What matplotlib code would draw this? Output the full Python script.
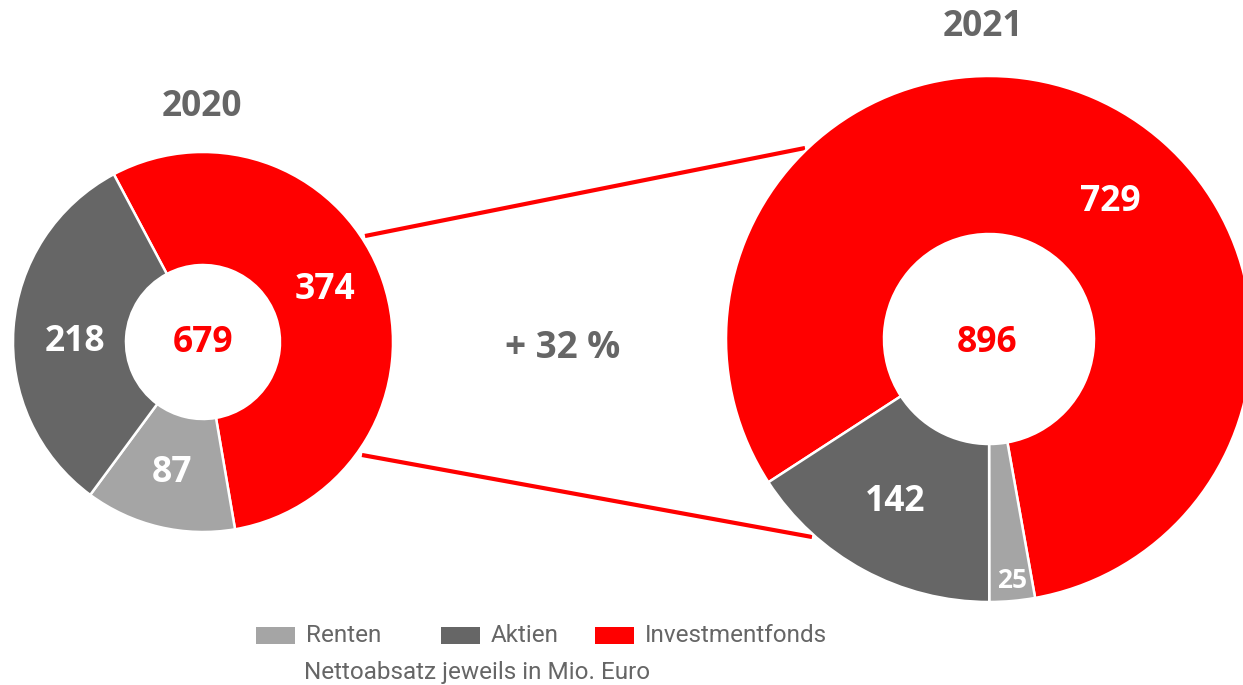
import matplotlib.pyplot as plt
from matplotlib.patches import Rectangle

# Daten (Nettoabsatz in Mio. Euro)
categories = ['Investmentfonds', 'Renten', 'Aktien']
values_2020 = [374, 87, 218]
values_2021 = [729, 25, 142]
years = ['2020', '2021']
growth_label = '+ 32 %'
legend_order = ['Renten', 'Aktien', 'Investmentfonds']
note = 'Nettoabsatz jeweils in Mio. Euro'

colors = {'Investmentfonds': '#ff0000', 'Renten': '#a5a5a5', 'Aktien': '#666666'}
GRAY = '#666666'
BOLD = ['Open Sans', 'DejaVu Sans']
REG = ['Roboto', 'DejaVu Sans']
FS = 25.5

W, H = 1243, 685
fig = plt.figure(figsize=(W / 100, H / 100), dpi=100)
ax = fig.add_axes([0, 0, 1, 1])


def Y(y):
    # image row -> data y
    return H - y


# connecting lines drawn first (behind the donuts)
ax.plot([365, 805], [Y(236), Y(148)], color='#ff0000', lw=3, solid_capstyle='butt', zorder=1)
ax.plot([362, 812], [Y(455), Y(537)], color='#ff0000', lw=3, solid_capstyle='butt', zorder=1)

pie_cols = [colors[c] for c in categories]

# 2020
ax.pie(values_2020, colors=pie_cols, startangle=118, counterclock=False,
       center=(203, Y(342)), radius=190, frame=True,
       wedgeprops=dict(width=113, edgecolor='white', linewidth=1.8))
# 2021
ax.pie(values_2021, colors=pie_cols, startangle=213, counterclock=False,
       center=(989, Y(339)), radius=263, frame=True,
       wedgeprops=dict(width=158, edgecolor='white', linewidth=1.8))
ax.set_xlim(0, W)
ax.set_ylim(0, H)
ax.set_aspect('equal')
ax.axis('off')

# slice labels
lab = dict(color='white', fontweight='bold', family=BOLD, ha='center', va='center')
ax.text(325, Y(290), str(values_2020[0]), fontsize=FS, **lab)
ax.text(172, Y(473), str(values_2020[1]), fontsize=FS, **lab)
ax.text(75, Y(342), str(values_2020[2]), fontsize=FS, **lab)
ax.text(1110, Y(202), str(values_2021[0]), fontsize=FS, **lab)
ax.text(1012, Y(580), str(values_2021[1]), fontsize=19, **lab)
ax.text(895, Y(502), str(values_2021[2]), fontsize=FS, **lab)

# totals in the centre
ax.text(203, Y(343), str(sum(values_2020)), fontsize=FS, color='#ff0000',
        fontweight='bold', family=BOLD, ha='center', va='center')
ax.text(987, Y(343), str(sum(values_2021)), fontsize=FS, color='#ff0000',
        fontweight='bold', family=BOLD, ha='center', va='center')

# years and growth
ax.text(202, Y(107), years[0], fontsize=FS, color=GRAY, fontweight='bold',
        family=BOLD, ha='center', va='center')
ax.text(983, Y(27), years[1], fontsize=FS, color=GRAY, fontweight='bold',
        family=BOLD, ha='center', va='center')
ax.text(563, Y(348), growth_label, fontsize=26.5, color=GRAY, fontweight='bold',
        family=BOLD, ha='center', va='center')

# legend
leg_x = {'Renten': 256, 'Aktien': 441, 'Investmentfonds': 595}
for name in legend_order:
    x0 = leg_x[name]
    ax.add_patch(Rectangle((x0, Y(644)), 39, 17, color=colors[name], lw=0))
    ax.text(x0 + 50, Y(636), name, fontsize=17.5, color=GRAY, family=REG,
            ha='left', va='center')
ax.text(304, Y(672), note, fontsize=17.5, color=GRAY, family=REG, ha='left', va='center')

fig.savefig('out.png', dpi=100)
